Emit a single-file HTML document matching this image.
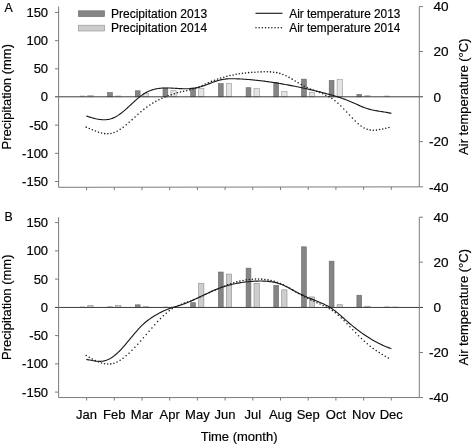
<!DOCTYPE html>
<html><head><meta charset="utf-8"><title>Figure</title>
<style>
html,body{margin:0;padding:0;background:#fff;}
body{width:472px;height:445px;overflow:hidden;font-family:"Liberation Sans",sans-serif;}
svg{display:block;filter:grayscale(100%);}
text{font-family:"Liberation Sans",sans-serif;fill:#000;stroke:#000;stroke-width:0.18px;}
</style></head><body>
<svg width="472" height="445" viewBox="0 0 472 445">
<rect width="472" height="445" fill="#fff"/>

<rect x="79.60" y="95.65" width="5.3999999999999995" height="1.15" fill="#a8a8a8"/>
<rect x="87.80" y="95.57" width="5.3" height="1.23" fill="#e4e4e4" stroke="#969696" stroke-width="0.6"/>
<rect x="107.60" y="92.59" width="4.8" height="4.21" fill="#858585" stroke="#666666" stroke-width="0.6"/>
<rect x="115.20" y="95.65" width="5.8999999999999995" height="1.15" fill="#a8a8a8"/>
<rect x="135.30" y="90.79" width="4.8" height="6.01" fill="#858585" stroke="#666666" stroke-width="0.6"/>
<rect x="143.20" y="93.32" width="5.3" height="3.48" fill="#e4e4e4" stroke="#969696" stroke-width="0.6"/>
<rect x="163.00" y="88.03" width="4.8" height="8.77" fill="#858585" stroke="#666666" stroke-width="0.6"/>
<rect x="170.90" y="90.73" width="5.3" height="6.07" fill="#e4e4e4" stroke="#969696" stroke-width="0.6"/>
<rect x="190.70" y="87.98" width="4.8" height="8.82" fill="#858585" stroke="#666666" stroke-width="0.6"/>
<rect x="198.60" y="88.37" width="5.3" height="8.43" fill="#e4e4e4" stroke="#969696" stroke-width="0.6"/>
<rect x="218.40" y="83.59" width="4.8" height="13.21" fill="#858585" stroke="#666666" stroke-width="0.6"/>
<rect x="226.30" y="83.47" width="5.3" height="13.33" fill="#e4e4e4" stroke="#969696" stroke-width="0.6"/>
<rect x="246.10" y="87.70" width="4.8" height="9.10" fill="#858585" stroke="#666666" stroke-width="0.6"/>
<rect x="254.00" y="88.60" width="5.3" height="8.20" fill="#e4e4e4" stroke="#969696" stroke-width="0.6"/>
<rect x="273.80" y="82.63" width="4.8" height="14.17" fill="#858585" stroke="#666666" stroke-width="0.6"/>
<rect x="281.70" y="91.63" width="5.3" height="5.17" fill="#e4e4e4" stroke="#969696" stroke-width="0.6"/>
<rect x="301.50" y="79.14" width="4.8" height="17.66" fill="#858585" stroke="#666666" stroke-width="0.6"/>
<rect x="309.40" y="92.54" width="5.3" height="4.26" fill="#e4e4e4" stroke="#969696" stroke-width="0.6"/>
<rect x="329.20" y="80.38" width="4.8" height="16.42" fill="#858585" stroke="#666666" stroke-width="0.6"/>
<rect x="337.10" y="79.25" width="5.3" height="17.55" fill="#e4e4e4" stroke="#969696" stroke-width="0.6"/>
<rect x="356.90" y="94.45" width="4.8" height="2.35" fill="#858585" stroke="#666666" stroke-width="0.6"/>
<rect x="364.50" y="95.26" width="5.8999999999999995" height="1.54" fill="#a8a8a8"/>
<rect x="384.30" y="95.65" width="5.3999999999999995" height="1.15" fill="#a8a8a8"/>
<line x1="55.0" y1="96.8" x2="423.0" y2="96.8" stroke="#3c3c3c" stroke-width="1"/>
<path d="M58.6,6.55 V187.3 L419.3,186.85000000000002 V6.55" fill="none" stroke="#747474" stroke-width="0.95"/>
<line x1="55.0" y1="12.47" x2="58.6" y2="12.47" stroke="#747474" stroke-width="0.95"/>
<text transform="translate(48.1,17.07) scale(1,1.04)" font-size="13" text-anchor="end">150</text>
<line x1="55.0" y1="40.65" x2="58.6" y2="40.65" stroke="#747474" stroke-width="0.95"/>
<text transform="translate(48.1,45.25) scale(1,1.04)" font-size="13" text-anchor="end">100</text>
<line x1="55.0" y1="68.83" x2="58.6" y2="68.83" stroke="#747474" stroke-width="0.95"/>
<text transform="translate(48.1,73.42) scale(1,1.04)" font-size="13" text-anchor="end">50</text>
<text transform="translate(48.1,101.40) scale(1,1.04)" font-size="13" text-anchor="end">0</text>
<line x1="55.0" y1="125.17" x2="58.6" y2="125.17" stroke="#747474" stroke-width="0.95"/>
<text transform="translate(48.1,129.78) scale(1,1.04)" font-size="13" text-anchor="end">-50</text>
<line x1="55.0" y1="153.35" x2="58.6" y2="153.35" stroke="#747474" stroke-width="0.95"/>
<text transform="translate(48.1,157.95) scale(1,1.04)" font-size="13" text-anchor="end">-100</text>
<line x1="55.0" y1="181.53" x2="58.6" y2="181.53" stroke="#747474" stroke-width="0.95"/>
<text transform="translate(48.1,186.12) scale(1,1.04)" font-size="13" text-anchor="end">-150</text>
<line x1="419.3" y1="6.55" x2="423.0" y2="6.55" stroke="#747474" stroke-width="0.95"/>
<text transform="translate(433.4,11.25) scale(1.045,1.05)" font-size="13">40</text>
<line x1="419.3" y1="51.47" x2="423.0" y2="51.47" stroke="#747474" stroke-width="0.95"/>
<text transform="translate(433.4,56.17) scale(1.045,1.05)" font-size="13">20</text>
<text transform="translate(433.4,101.50) scale(1.045,1.05)" font-size="13">0</text>
<line x1="419.3" y1="141.63" x2="423.0" y2="141.63" stroke="#747474" stroke-width="0.95"/>
<text transform="translate(428.9,146.33) scale(1.045,1.05)" font-size="13">-20</text>
<line x1="419.3" y1="186.85" x2="423.0" y2="186.85" stroke="#747474" stroke-width="0.95"/>
<text transform="translate(428.9,191.55) scale(1.045,1.05)" font-size="13">-40</text>
<line x1="86.60" y1="187.27" x2="86.60" y2="190.27" stroke="#747474" stroke-width="0.95"/>
<line x1="114.30" y1="187.23" x2="114.30" y2="190.23" stroke="#747474" stroke-width="0.95"/>
<line x1="142.00" y1="187.20" x2="142.00" y2="190.20" stroke="#747474" stroke-width="0.95"/>
<line x1="169.70" y1="187.16" x2="169.70" y2="190.16" stroke="#747474" stroke-width="0.95"/>
<line x1="197.40" y1="187.13" x2="197.40" y2="190.13" stroke="#747474" stroke-width="0.95"/>
<line x1="225.10" y1="187.09" x2="225.10" y2="190.09" stroke="#747474" stroke-width="0.95"/>
<line x1="252.80" y1="187.06" x2="252.80" y2="190.06" stroke="#747474" stroke-width="0.95"/>
<line x1="280.50" y1="187.02" x2="280.50" y2="190.02" stroke="#747474" stroke-width="0.95"/>
<line x1="308.20" y1="186.99" x2="308.20" y2="189.99" stroke="#747474" stroke-width="0.95"/>
<line x1="335.90" y1="186.95" x2="335.90" y2="189.95" stroke="#747474" stroke-width="0.95"/>
<line x1="363.60" y1="186.92" x2="363.60" y2="189.92" stroke="#747474" stroke-width="0.95"/>
<line x1="391.30" y1="186.88" x2="391.30" y2="189.88" stroke="#747474" stroke-width="0.95"/>
<path d="M86.30,115.95 L87.48,116.34 L88.66,116.72 L89.83,117.10 L91.01,117.46 L92.19,117.81 L93.37,118.14 L94.55,118.44 L95.72,118.72 L96.90,118.98 L98.08,119.20 L99.26,119.39 L100.44,119.54 L101.61,119.66 L102.79,119.72 L103.97,119.75 L105.15,119.72 L106.33,119.65 L107.50,119.51 L108.68,119.32 L109.86,119.07 L111.04,118.75 L112.22,118.37 L113.39,117.91 L114.57,117.39 L115.75,116.78 L116.93,116.11 L118.11,115.37 L119.28,114.57 L120.46,113.71 L121.64,112.81 L122.82,111.86 L124.00,110.88 L125.17,109.86 L126.35,108.82 L127.53,107.75 L128.71,106.67 L129.89,105.58 L131.06,104.49 L132.24,103.40 L133.42,102.31 L134.60,101.23 L135.78,100.18 L136.95,99.14 L138.13,98.14 L139.31,97.17 L140.49,96.24 L141.67,95.35 L142.84,94.52 L144.02,93.74 L145.20,93.02 L146.38,92.37 L147.56,91.76 L148.73,91.22 L149.91,90.72 L151.09,90.27 L152.27,89.87 L153.45,89.52 L154.62,89.21 L155.80,88.93 L156.98,88.70 L158.16,88.50 L159.34,88.34 L160.51,88.21 L161.69,88.11 L162.87,88.03 L164.05,87.98 L165.23,87.95 L166.40,87.95 L167.58,87.96 L168.76,87.98 L169.94,88.02 L171.12,88.08 L172.29,88.14 L173.47,88.20 L174.65,88.28 L175.83,88.35 L177.01,88.43 L178.18,88.50 L179.36,88.57 L180.54,88.63 L181.72,88.69 L182.90,88.73 L184.07,88.76 L185.25,88.78 L186.43,88.78 L187.61,88.75 L188.79,88.71 L189.96,88.64 L191.14,88.55 L192.32,88.43 L193.50,88.28 L194.68,88.10 L195.85,87.89 L197.03,87.65 L198.21,87.39 L199.39,87.09 L200.57,86.76 L201.74,86.40 L202.92,86.02 L204.10,85.61 L205.28,85.19 L206.46,84.76 L207.63,84.31 L208.81,83.86 L209.99,83.41 L211.17,82.95 L212.35,82.51 L213.52,82.07 L214.70,81.65 L215.88,81.25 L217.06,80.86 L218.24,80.51 L219.41,80.18 L220.59,79.88 L221.77,79.62 L222.95,79.40 L224.13,79.22 L225.30,79.06 L226.48,78.94 L227.66,78.85 L228.84,78.79 L230.02,78.74 L231.19,78.72 L232.37,78.72 L233.55,78.73 L234.73,78.75 L235.91,78.79 L237.08,78.83 L238.26,78.88 L239.44,78.93 L240.62,78.99 L241.79,79.05 L242.97,79.12 L244.15,79.20 L245.33,79.28 L246.51,79.36 L247.68,79.45 L248.86,79.54 L250.04,79.64 L251.22,79.74 L252.40,79.85 L253.57,79.96 L254.75,80.08 L255.93,80.20 L257.11,80.32 L258.29,80.45 L259.46,80.59 L260.64,80.73 L261.82,80.87 L263.00,81.02 L264.18,81.17 L265.35,81.32 L266.53,81.48 L267.71,81.64 L268.89,81.81 L270.07,81.98 L271.24,82.15 L272.42,82.33 L273.60,82.51 L274.78,82.69 L275.96,82.88 L277.13,83.07 L278.31,83.26 L279.49,83.46 L280.67,83.66 L281.85,83.86 L283.02,84.07 L284.20,84.28 L285.38,84.49 L286.56,84.70 L287.74,84.92 L288.91,85.14 L290.09,85.37 L291.27,85.59 L292.45,85.82 L293.63,86.05 L294.80,86.29 L295.98,86.52 L297.16,86.76 L298.34,87.01 L299.52,87.25 L300.69,87.50 L301.87,87.75 L303.05,88.00 L304.23,88.26 L305.41,88.52 L306.58,88.78 L307.76,89.05 L308.94,89.32 L310.12,89.59 L311.30,89.86 L312.47,90.14 L313.65,90.42 L314.83,90.70 L316.01,90.99 L317.19,91.28 L318.36,91.57 L319.54,91.86 L320.72,92.16 L321.90,92.46 L323.08,92.76 L324.25,93.07 L325.43,93.38 L326.61,93.69 L327.79,94.01 L328.97,94.33 L330.14,94.65 L331.32,94.98 L332.50,95.32 L333.68,95.66 L334.86,96.01 L336.03,96.37 L337.21,96.73 L338.39,97.10 L339.57,97.49 L340.75,97.88 L341.92,98.28 L343.10,98.70 L344.28,99.12 L345.46,99.56 L346.64,100.01 L347.81,100.47 L348.99,100.95 L350.17,101.44 L351.35,101.94 L352.53,102.46 L353.70,102.99 L354.88,103.53 L356.06,104.06 L357.24,104.60 L358.42,105.13 L359.59,105.65 L360.77,106.16 L361.95,106.65 L363.13,107.13 L364.31,107.57 L365.48,108.00 L366.66,108.39 L367.84,108.75 L369.02,109.09 L370.20,109.40 L371.37,109.69 L372.55,109.96 L373.73,110.21 L374.91,110.45 L376.09,110.67 L377.26,110.88 L378.44,111.09 L379.62,111.28 L380.80,111.47 L381.98,111.66 L383.15,111.85 L384.33,112.05 L385.51,112.24 L386.69,112.44 L387.87,112.65 L389.04,112.88 L390.22,113.11 L391.40,113.36" fill="none" stroke="#1c1c1c" stroke-width="1.15" stroke-linejoin="round"/>
<g fill="#1c1c1c"><circle cx="86.20" cy="127.14" r="0.78"/><circle cx="89.28" cy="128.45" r="0.78"/><circle cx="92.35" cy="129.77" r="0.78"/><circle cx="95.43" cy="131.04" r="0.78"/><circle cx="98.51" cy="132.16" r="0.78"/><circle cx="101.60" cy="133.05" r="0.78"/><circle cx="104.71" cy="133.63" r="0.78"/><circle cx="107.83" cy="133.79" r="0.78"/><circle cx="110.95" cy="133.46" r="0.78"/><circle cx="114.06" cy="132.57" r="0.78"/><circle cx="117.14" cy="131.16" r="0.78"/><circle cx="120.19" cy="129.34" r="0.78"/><circle cx="123.21" cy="127.20" r="0.78"/><circle cx="126.20" cy="124.82" r="0.78"/><circle cx="129.16" cy="122.27" r="0.78"/><circle cx="132.10" cy="119.63" r="0.78"/><circle cx="135.03" cy="116.96" r="0.78"/><circle cx="137.96" cy="114.31" r="0.78"/><circle cx="140.90" cy="111.76" r="0.78"/><circle cx="143.86" cy="109.35" r="0.78"/><circle cx="146.83" cy="107.11" r="0.78"/><circle cx="149.83" cy="105.03" r="0.78"/><circle cx="152.85" cy="103.11" r="0.78"/><circle cx="155.88" cy="101.35" r="0.78"/><circle cx="158.92" cy="99.74" r="0.78"/><circle cx="161.98" cy="98.27" r="0.78"/><circle cx="165.05" cy="96.94" r="0.78"/><circle cx="168.13" cy="95.73" r="0.78"/><circle cx="171.22" cy="94.66" r="0.78"/><circle cx="174.31" cy="93.69" r="0.78"/><circle cx="177.41" cy="92.83" r="0.78"/><circle cx="180.51" cy="92.07" r="0.78"/><circle cx="183.62" cy="91.37" r="0.78"/><circle cx="186.73" cy="90.66" r="0.78"/><circle cx="189.83" cy="89.90" r="0.78"/><circle cx="192.94" cy="89.04" r="0.78"/><circle cx="196.03" cy="88.01" r="0.78"/><circle cx="199.12" cy="86.80" r="0.78"/><circle cx="202.20" cy="85.46" r="0.78"/><circle cx="205.27" cy="84.06" r="0.78"/><circle cx="208.34" cy="82.69" r="0.78"/><circle cx="211.41" cy="81.39" r="0.78"/><circle cx="214.49" cy="80.19" r="0.78"/><circle cx="217.58" cy="79.09" r="0.78"/><circle cx="220.67" cy="78.08" r="0.78"/><circle cx="223.77" cy="77.16" r="0.78"/><circle cx="226.87" cy="76.33" r="0.78"/><circle cx="229.97" cy="75.58" r="0.78"/><circle cx="233.08" cy="74.91" r="0.78"/><circle cx="236.19" cy="74.32" r="0.78"/><circle cx="239.30" cy="73.80" r="0.78"/><circle cx="242.41" cy="73.35" r="0.78"/><circle cx="245.53" cy="72.96" r="0.78"/><circle cx="248.64" cy="72.64" r="0.78"/><circle cx="251.76" cy="72.37" r="0.78"/><circle cx="254.88" cy="72.16" r="0.78"/><circle cx="258.00" cy="72.00" r="0.78"/><circle cx="261.12" cy="71.88" r="0.78"/><circle cx="264.24" cy="71.80" r="0.78"/><circle cx="267.36" cy="71.79" r="0.78"/><circle cx="270.48" cy="71.90" r="0.78"/><circle cx="273.60" cy="72.17" r="0.78"/><circle cx="276.71" cy="72.65" r="0.78"/><circle cx="279.83" cy="73.40" r="0.78"/><circle cx="282.92" cy="74.45" r="0.78"/><circle cx="286.01" cy="75.81" r="0.78"/><circle cx="289.07" cy="77.39" r="0.78"/><circle cx="292.12" cy="79.13" r="0.78"/><circle cx="295.16" cy="80.94" r="0.78"/><circle cx="298.19" cy="82.78" r="0.78"/><circle cx="301.22" cy="84.56" r="0.78"/><circle cx="304.26" cy="86.21" r="0.78"/><circle cx="307.32" cy="87.69" r="0.78"/><circle cx="310.39" cy="89.00" r="0.78"/><circle cx="313.47" cy="90.21" r="0.78"/><circle cx="316.55" cy="91.37" r="0.78"/><circle cx="319.64" cy="92.54" r="0.78"/><circle cx="322.72" cy="93.79" r="0.78"/><circle cx="325.80" cy="95.17" r="0.78"/><circle cx="328.86" cy="96.75" r="0.78"/><circle cx="331.91" cy="98.58" r="0.78"/><circle cx="334.93" cy="100.72" r="0.78"/><circle cx="337.91" cy="103.21" r="0.78"/><circle cx="340.85" cy="105.98" r="0.78"/><circle cx="343.75" cy="108.94" r="0.78"/><circle cx="346.63" cy="112.00" r="0.78"/><circle cx="349.49" cy="115.08" r="0.78"/><circle cx="352.36" cy="118.10" r="0.78"/><circle cx="355.25" cy="120.99" r="0.78"/><circle cx="358.16" cy="123.66" r="0.78"/><circle cx="361.11" cy="126.01" r="0.78"/><circle cx="364.10" cy="127.95" r="0.78"/><circle cx="367.15" cy="129.33" r="0.78"/><circle cx="370.24" cy="130.10" r="0.78"/><circle cx="373.35" cy="130.31" r="0.78"/><circle cx="376.47" cy="130.10" r="0.78"/><circle cx="379.59" cy="129.59" r="0.78"/><circle cx="382.70" cy="128.92" r="0.78"/><circle cx="385.80" cy="128.20" r="0.78"/><circle cx="388.91" cy="127.58" r="0.78"/></g>
<text transform="translate(11.0,96.7) rotate(-90)" font-size="13" text-anchor="middle">Precipitation (mm)</text>
<text transform="translate(468.3,96.7) rotate(-90)" font-size="13" text-anchor="middle">Air temperature (°C)</text>
<text x="4.6" y="11.8" font-size="12.3">A</text>
<rect x="79.60" y="306.55" width="5.3999999999999995" height="0.90" fill="#a8a8a8"/>
<rect x="87.80" y="305.63" width="5.3" height="1.82" fill="#cdcdcd" stroke="#8c8c8c" stroke-width="0.6"/>
<rect x="107.30" y="306.16" width="5.3999999999999995" height="1.29" fill="#a8a8a8"/>
<rect x="115.50" y="305.63" width="5.3" height="1.82" fill="#cdcdcd" stroke="#8c8c8c" stroke-width="0.6"/>
<rect x="135.30" y="304.79" width="4.8" height="2.66" fill="#858585" stroke="#666666" stroke-width="0.6"/>
<rect x="142.90" y="306.16" width="5.8999999999999995" height="1.29" fill="#a8a8a8"/>
<rect x="162.70" y="306.65" width="5.3999999999999995" height="0.80" fill="#a8a8a8"/>
<rect x="170.60" y="306.65" width="5.8999999999999995" height="0.80" fill="#a8a8a8"/>
<rect x="190.70" y="302.70" width="4.8" height="4.75" fill="#858585" stroke="#666666" stroke-width="0.6"/>
<rect x="198.60" y="283.62" width="5.3" height="23.83" fill="#cdcdcd" stroke="#8c8c8c" stroke-width="0.6"/>
<rect x="218.40" y="272.03" width="4.8" height="35.42" fill="#858585" stroke="#666666" stroke-width="0.6"/>
<rect x="226.30" y="274.06" width="5.3" height="33.39" fill="#cdcdcd" stroke="#8c8c8c" stroke-width="0.6"/>
<rect x="246.10" y="268.15" width="4.8" height="39.30" fill="#858585" stroke="#666666" stroke-width="0.6"/>
<rect x="254.00" y="283.29" width="5.3" height="24.16" fill="#cdcdcd" stroke="#8c8c8c" stroke-width="0.6"/>
<rect x="273.80" y="285.31" width="4.8" height="22.14" fill="#858585" stroke="#666666" stroke-width="0.6"/>
<rect x="281.70" y="289.82" width="5.3" height="17.63" fill="#cdcdcd" stroke="#8c8c8c" stroke-width="0.6"/>
<rect x="301.50" y="246.82" width="4.8" height="60.63" fill="#858585" stroke="#666666" stroke-width="0.6"/>
<rect x="309.40" y="296.91" width="5.3" height="10.54" fill="#cdcdcd" stroke="#8c8c8c" stroke-width="0.6"/>
<rect x="329.20" y="261.17" width="4.8" height="46.28" fill="#858585" stroke="#666666" stroke-width="0.6"/>
<rect x="337.10" y="304.70" width="5.3" height="2.75" fill="#cdcdcd" stroke="#8c8c8c" stroke-width="0.6"/>
<rect x="356.90" y="295.22" width="4.8" height="12.23" fill="#858585" stroke="#666666" stroke-width="0.6"/>
<rect x="364.80" y="306.19" width="5.3" height="1.26" fill="#cdcdcd" stroke="#8c8c8c" stroke-width="0.6"/>
<rect x="384.30" y="306.44" width="5.3999999999999995" height="1.01" fill="#a8a8a8"/>
<rect x="392.20" y="306.65" width="5.8999999999999995" height="0.80" fill="#a8a8a8"/>
<line x1="55.0" y1="307.45" x2="423.0" y2="307.45" stroke="#3c3c3c" stroke-width="1"/>
<path d="M58.6,217.2 V397.55 L419.3,397.55 V217.2" fill="none" stroke="#747474" stroke-width="0.95"/>
<line x1="55.0" y1="222.60" x2="58.6" y2="222.60" stroke="#747474" stroke-width="0.95"/>
<text transform="translate(48.1,227.20) scale(1,1.04)" font-size="13" text-anchor="end">150</text>
<line x1="55.0" y1="250.85" x2="58.6" y2="250.85" stroke="#747474" stroke-width="0.95"/>
<text transform="translate(48.1,255.45) scale(1,1.04)" font-size="13" text-anchor="end">100</text>
<line x1="55.0" y1="279.10" x2="58.6" y2="279.10" stroke="#747474" stroke-width="0.95"/>
<text transform="translate(48.1,283.70) scale(1,1.04)" font-size="13" text-anchor="end">50</text>
<text transform="translate(48.1,312.05) scale(1,1.04)" font-size="13" text-anchor="end">0</text>
<line x1="55.0" y1="335.60" x2="58.6" y2="335.60" stroke="#747474" stroke-width="0.95"/>
<text transform="translate(48.1,340.20) scale(1,1.04)" font-size="13" text-anchor="end">-50</text>
<line x1="55.0" y1="363.85" x2="58.6" y2="363.85" stroke="#747474" stroke-width="0.95"/>
<text transform="translate(48.1,368.45) scale(1,1.04)" font-size="13" text-anchor="end">-100</text>
<line x1="55.0" y1="392.10" x2="58.6" y2="392.10" stroke="#747474" stroke-width="0.95"/>
<text transform="translate(48.1,396.70) scale(1,1.04)" font-size="13" text-anchor="end">-150</text>
<line x1="419.3" y1="217.20" x2="423.0" y2="217.20" stroke="#747474" stroke-width="0.95"/>
<text transform="translate(433.4,221.90) scale(1.045,1.05)" font-size="13">40</text>
<line x1="419.3" y1="262.15" x2="423.0" y2="262.15" stroke="#747474" stroke-width="0.95"/>
<text transform="translate(433.4,266.85) scale(1.045,1.05)" font-size="13">20</text>
<text transform="translate(433.4,312.15) scale(1.045,1.05)" font-size="13">0</text>
<line x1="419.3" y1="352.55" x2="423.0" y2="352.55" stroke="#747474" stroke-width="0.95"/>
<text transform="translate(428.9,357.25) scale(1.045,1.05)" font-size="13">-20</text>
<line x1="419.3" y1="397.55" x2="423.0" y2="397.55" stroke="#747474" stroke-width="0.95"/>
<text transform="translate(428.9,402.25) scale(1.045,1.05)" font-size="13">-40</text>
<line x1="86.60" y1="397.55" x2="86.60" y2="400.55" stroke="#747474" stroke-width="0.95"/>
<text x="86.60" y="419.0" font-size="13" text-anchor="middle">Jan</text>
<line x1="114.30" y1="397.55" x2="114.30" y2="400.55" stroke="#747474" stroke-width="0.95"/>
<text x="114.30" y="419.0" font-size="13" text-anchor="middle">Feb</text>
<line x1="142.00" y1="397.55" x2="142.00" y2="400.55" stroke="#747474" stroke-width="0.95"/>
<text x="142.00" y="419.0" font-size="13" text-anchor="middle">Mar</text>
<line x1="169.70" y1="397.55" x2="169.70" y2="400.55" stroke="#747474" stroke-width="0.95"/>
<text x="169.70" y="419.0" font-size="13" text-anchor="middle">Apr</text>
<line x1="197.40" y1="397.55" x2="197.40" y2="400.55" stroke="#747474" stroke-width="0.95"/>
<text x="197.40" y="419.0" font-size="13" text-anchor="middle">May</text>
<line x1="225.10" y1="397.55" x2="225.10" y2="400.55" stroke="#747474" stroke-width="0.95"/>
<text x="225.10" y="419.0" font-size="13" text-anchor="middle">Jun</text>
<line x1="252.80" y1="397.55" x2="252.80" y2="400.55" stroke="#747474" stroke-width="0.95"/>
<text x="252.80" y="419.0" font-size="13" text-anchor="middle">Jul</text>
<line x1="280.50" y1="397.55" x2="280.50" y2="400.55" stroke="#747474" stroke-width="0.95"/>
<text x="280.50" y="419.0" font-size="13" text-anchor="middle">Aug</text>
<line x1="308.20" y1="397.55" x2="308.20" y2="400.55" stroke="#747474" stroke-width="0.95"/>
<text x="308.20" y="419.0" font-size="13" text-anchor="middle">Sep</text>
<line x1="335.90" y1="397.55" x2="335.90" y2="400.55" stroke="#747474" stroke-width="0.95"/>
<text x="335.90" y="419.0" font-size="13" text-anchor="middle">Oct</text>
<line x1="363.60" y1="397.55" x2="363.60" y2="400.55" stroke="#747474" stroke-width="0.95"/>
<text x="363.60" y="419.0" font-size="13" text-anchor="middle">Nov</text>
<line x1="391.30" y1="397.55" x2="391.30" y2="400.55" stroke="#747474" stroke-width="0.95"/>
<text x="391.30" y="419.0" font-size="13" text-anchor="middle">Dec</text>
<path d="M86.30,359.39 L87.48,359.60 L88.66,359.83 L89.83,360.06 L91.01,360.29 L92.19,360.51 L93.37,360.72 L94.55,360.91 L95.72,361.07 L96.90,361.20 L98.08,361.29 L99.26,361.33 L100.44,361.32 L101.61,361.26 L102.79,361.13 L103.97,360.92 L105.15,360.64 L106.33,360.28 L107.50,359.83 L108.68,359.30 L109.86,358.69 L111.04,358.00 L112.22,357.24 L113.39,356.41 L114.57,355.51 L115.75,354.53 L116.93,353.50 L118.11,352.40 L119.28,351.24 L120.46,350.03 L121.64,348.77 L122.82,347.48 L124.00,346.14 L125.17,344.78 L126.35,343.40 L127.53,341.99 L128.71,340.58 L129.89,339.15 L131.06,337.72 L132.24,336.30 L133.42,334.89 L134.60,333.49 L135.78,332.11 L136.95,330.75 L138.13,329.43 L139.31,328.15 L140.49,326.90 L141.67,325.71 L142.84,324.57 L144.02,323.48 L145.20,322.46 L146.38,321.49 L147.56,320.57 L148.73,319.69 L149.91,318.86 L151.09,318.05 L152.27,317.27 L153.45,316.51 L154.62,315.78 L155.80,315.07 L156.98,314.38 L158.16,313.71 L159.34,313.07 L160.51,312.46 L161.69,311.87 L162.87,311.30 L164.05,310.76 L165.23,310.25 L166.40,309.76 L167.58,309.30 L168.76,308.86 L169.94,308.45 L171.12,308.06 L172.29,307.68 L173.47,307.32 L174.65,306.96 L175.83,306.60 L177.01,306.25 L178.18,305.88 L179.36,305.51 L180.54,305.12 L181.72,304.71 L182.90,304.29 L184.07,303.85 L185.25,303.39 L186.43,302.92 L187.61,302.44 L188.79,301.94 L189.96,301.44 L191.14,300.92 L192.32,300.39 L193.50,299.86 L194.68,299.32 L195.85,298.77 L197.03,298.22 L198.21,297.66 L199.39,297.10 L200.57,296.54 L201.74,295.98 L202.92,295.42 L204.10,294.87 L205.28,294.31 L206.46,293.76 L207.63,293.21 L208.81,292.67 L209.99,292.13 L211.17,291.61 L212.35,291.09 L213.52,290.58 L214.70,290.08 L215.88,289.60 L217.06,289.13 L218.24,288.67 L219.41,288.22 L220.59,287.80 L221.77,287.38 L222.95,286.99 L224.13,286.60 L225.30,286.23 L226.48,285.88 L227.66,285.54 L228.84,285.21 L230.02,284.89 L231.19,284.59 L232.37,284.31 L233.55,284.03 L234.73,283.77 L235.91,283.53 L237.08,283.29 L238.26,283.07 L239.44,282.86 L240.62,282.66 L241.79,282.48 L242.97,282.30 L244.15,282.14 L245.33,281.99 L246.51,281.85 L247.68,281.73 L248.86,281.61 L250.04,281.51 L251.22,281.41 L252.40,281.33 L253.57,281.26 L254.75,281.19 L255.93,281.14 L257.11,281.10 L258.29,281.07 L259.46,281.05 L260.64,281.04 L261.82,281.04 L263.00,281.06 L264.18,281.10 L265.35,281.15 L266.53,281.23 L267.71,281.32 L268.89,281.44 L270.07,281.58 L271.24,281.74 L272.42,281.93 L273.60,282.15 L274.78,282.40 L275.96,282.67 L277.13,282.98 L278.31,283.33 L279.49,283.70 L280.67,284.12 L281.85,284.57 L283.02,285.06 L284.20,285.58 L285.38,286.15 L286.56,286.74 L287.74,287.35 L288.91,287.98 L290.09,288.63 L291.27,289.29 L292.45,289.94 L293.63,290.60 L294.80,291.25 L295.98,291.89 L297.16,292.51 L298.34,293.12 L299.52,293.70 L300.69,294.27 L301.87,294.83 L303.05,295.37 L304.23,295.90 L305.41,296.42 L306.58,296.92 L307.76,297.42 L308.94,297.92 L310.12,298.41 L311.30,298.89 L312.47,299.37 L313.65,299.85 L314.83,300.33 L316.01,300.81 L317.19,301.29 L318.36,301.78 L319.54,302.28 L320.72,302.78 L321.90,303.29 L323.08,303.80 L324.25,304.34 L325.43,304.90 L326.61,305.48 L327.79,306.10 L328.97,306.76 L330.14,307.47 L331.32,308.23 L332.50,309.04 L333.68,309.90 L334.86,310.79 L336.03,311.71 L337.21,312.67 L338.39,313.65 L339.57,314.65 L340.75,315.67 L341.92,316.71 L343.10,317.75 L344.28,318.80 L345.46,319.84 L346.64,320.88 L347.81,321.92 L348.99,322.94 L350.17,323.94 L351.35,324.93 L352.53,325.90 L353.70,326.86 L354.88,327.80 L356.06,328.73 L357.24,329.64 L358.42,330.53 L359.59,331.41 L360.77,332.27 L361.95,333.12 L363.13,333.95 L364.31,334.76 L365.48,335.55 L366.66,336.33 L367.84,337.09 L369.02,337.84 L370.20,338.56 L371.37,339.28 L372.55,339.97 L373.73,340.65 L374.91,341.31 L376.09,341.95 L377.26,342.57 L378.44,343.18 L379.62,343.77 L380.80,344.34 L381.98,344.89 L383.15,345.43 L384.33,345.95 L385.51,346.45 L386.69,346.93 L387.87,347.40 L389.04,347.84 L390.22,348.27 L391.40,348.68" fill="none" stroke="#1c1c1c" stroke-width="1.15" stroke-linejoin="round"/>
<g fill="#1c1c1c"><circle cx="86.20" cy="355.49" r="0.78"/><circle cx="89.24" cy="357.22" r="0.78"/><circle cx="92.29" cy="358.91" r="0.78"/><circle cx="95.34" cy="360.48" r="0.78"/><circle cx="98.40" cy="361.86" r="0.78"/><circle cx="101.48" cy="362.97" r="0.78"/><circle cx="104.57" cy="363.72" r="0.78"/><circle cx="107.69" cy="364.05" r="0.78"/><circle cx="110.81" cy="363.89" r="0.78"/><circle cx="113.92" cy="363.19" r="0.78"/><circle cx="117.02" cy="361.98" r="0.78"/><circle cx="120.08" cy="360.30" r="0.78"/><circle cx="123.11" cy="358.23" r="0.78"/><circle cx="126.10" cy="355.83" r="0.78"/><circle cx="129.05" cy="353.17" r="0.78"/><circle cx="131.97" cy="350.32" r="0.78"/><circle cx="134.87" cy="347.32" r="0.78"/><circle cx="137.74" cy="344.21" r="0.78"/><circle cx="140.59" cy="341.02" r="0.78"/><circle cx="143.44" cy="337.77" r="0.78"/><circle cx="146.27" cy="334.49" r="0.78"/><circle cx="149.10" cy="331.19" r="0.78"/><circle cx="151.93" cy="327.92" r="0.78"/><circle cx="154.76" cy="324.71" r="0.78"/><circle cx="157.61" cy="321.59" r="0.78"/><circle cx="160.48" cy="318.60" r="0.78"/><circle cx="163.37" cy="315.78" r="0.78"/><circle cx="166.29" cy="313.16" r="0.78"/><circle cx="169.25" cy="310.81" r="0.78"/><circle cx="172.24" cy="308.76" r="0.78"/><circle cx="175.26" cy="307.03" r="0.78"/><circle cx="178.32" cy="305.55" r="0.78"/><circle cx="181.39" cy="304.28" r="0.78"/><circle cx="184.47" cy="303.13" r="0.78"/><circle cx="187.56" cy="302.06" r="0.78"/><circle cx="190.65" cy="300.97" r="0.78"/><circle cx="193.74" cy="299.81" r="0.78"/><circle cx="196.82" cy="298.54" r="0.78"/><circle cx="199.90" cy="297.18" r="0.78"/><circle cx="202.97" cy="295.76" r="0.78"/><circle cx="206.03" cy="294.29" r="0.78"/><circle cx="209.10" cy="292.81" r="0.78"/><circle cx="212.16" cy="291.34" r="0.78"/><circle cx="215.22" cy="289.89" r="0.78"/><circle cx="218.29" cy="288.50" r="0.78"/><circle cx="221.36" cy="287.18" r="0.78"/><circle cx="224.44" cy="285.95" r="0.78"/><circle cx="227.52" cy="284.79" r="0.78"/><circle cx="230.61" cy="283.73" r="0.78"/><circle cx="233.71" cy="282.76" r="0.78"/><circle cx="236.80" cy="281.89" r="0.78"/><circle cx="239.91" cy="281.12" r="0.78"/><circle cx="243.01" cy="280.45" r="0.78"/><circle cx="246.12" cy="279.90" r="0.78"/><circle cx="249.24" cy="279.48" r="0.78"/><circle cx="252.35" cy="279.18" r="0.78"/><circle cx="255.47" cy="279.02" r="0.78"/><circle cx="258.59" cy="279.00" r="0.78"/><circle cx="261.71" cy="279.14" r="0.78"/><circle cx="264.83" cy="279.43" r="0.78"/><circle cx="267.95" cy="279.89" r="0.78"/><circle cx="271.06" cy="280.53" r="0.78"/><circle cx="274.17" cy="281.34" r="0.78"/><circle cx="277.27" cy="282.33" r="0.78"/><circle cx="280.36" cy="283.51" r="0.78"/><circle cx="283.43" cy="284.89" r="0.78"/><circle cx="286.50" cy="286.44" r="0.78"/><circle cx="289.55" cy="288.12" r="0.78"/><circle cx="292.59" cy="289.88" r="0.78"/><circle cx="295.63" cy="291.66" r="0.78"/><circle cx="298.67" cy="293.42" r="0.78"/><circle cx="301.71" cy="295.13" r="0.78"/><circle cx="304.76" cy="296.79" r="0.78"/><circle cx="307.81" cy="298.37" r="0.78"/><circle cx="310.87" cy="299.88" r="0.78"/><circle cx="313.93" cy="301.30" r="0.78"/><circle cx="317.00" cy="302.66" r="0.78"/><circle cx="320.07" cy="304.02" r="0.78"/><circle cx="323.14" cy="305.44" r="0.78"/><circle cx="326.21" cy="306.98" r="0.78"/><circle cx="329.26" cy="308.68" r="0.78"/><circle cx="332.30" cy="310.60" r="0.78"/><circle cx="335.31" cy="312.79" r="0.78"/><circle cx="338.29" cy="315.26" r="0.78"/><circle cx="341.23" cy="317.96" r="0.78"/><circle cx="344.15" cy="320.81" r="0.78"/><circle cx="347.04" cy="323.77" r="0.78"/><circle cx="349.93" cy="326.78" r="0.78"/><circle cx="352.80" cy="329.81" r="0.78"/><circle cx="355.68" cy="332.81" r="0.78"/><circle cx="358.56" cy="335.75" r="0.78"/><circle cx="361.46" cy="338.59" r="0.78"/><circle cx="364.37" cy="341.29" r="0.78"/><circle cx="367.31" cy="343.84" r="0.78"/><circle cx="370.27" cy="346.24" r="0.78"/><circle cx="373.24" cy="348.49" r="0.78"/><circle cx="376.24" cy="350.61" r="0.78"/><circle cx="379.25" cy="352.60" r="0.78"/><circle cx="382.27" cy="354.47" r="0.78"/><circle cx="385.30" cy="356.25" r="0.78"/><circle cx="388.34" cy="357.93" r="0.78"/></g>
<text transform="translate(11.0,307.2) rotate(-90)" font-size="13" text-anchor="middle">Precipitation (mm)</text>
<text transform="translate(468.3,307.2) rotate(-90)" font-size="13" text-anchor="middle">Air temperature (°C)</text>
<text x="4.6" y="220.9" font-size="12.3">B</text>

<rect x="78.4" y="10.8" width="26.2" height="5.8" fill="#858585" stroke="#666666" stroke-width="0.6"/>
<rect x="78.4" y="25.2" width="26.2" height="5.8" fill="#cdcdcd" stroke="#8c8c8c" stroke-width="0.6"/>
<text x="111.0" y="17.8" font-size="12">Precipitation 2013</text>
<text x="111.0" y="32.1" font-size="12">Precipitation 2014</text>
<line x1="255.5" y1="13.3" x2="282.5" y2="13.3" stroke="#1c1c1c" stroke-width="1.15"/>
<g fill="#1c1c1c"><circle cx="256.00" cy="27.7" r="0.78"/><circle cx="259.17" cy="27.7" r="0.78"/><circle cx="262.34" cy="27.7" r="0.78"/><circle cx="265.51" cy="27.7" r="0.78"/><circle cx="268.68" cy="27.7" r="0.78"/><circle cx="271.85" cy="27.7" r="0.78"/><circle cx="275.02" cy="27.7" r="0.78"/><circle cx="278.19" cy="27.7" r="0.78"/><circle cx="281.36" cy="27.7" r="0.78"/></g>
<text x="289.3" y="17.8" font-size="12" textLength="111" lengthAdjust="spacingAndGlyphs">Air temperature 2013</text>
<text x="289.3" y="32.1" font-size="12" textLength="111" lengthAdjust="spacingAndGlyphs">Air temperature 2014</text>
<text x="239.1" y="440.8" font-size="13" text-anchor="middle">Time (month)</text>

</svg></body></html>
